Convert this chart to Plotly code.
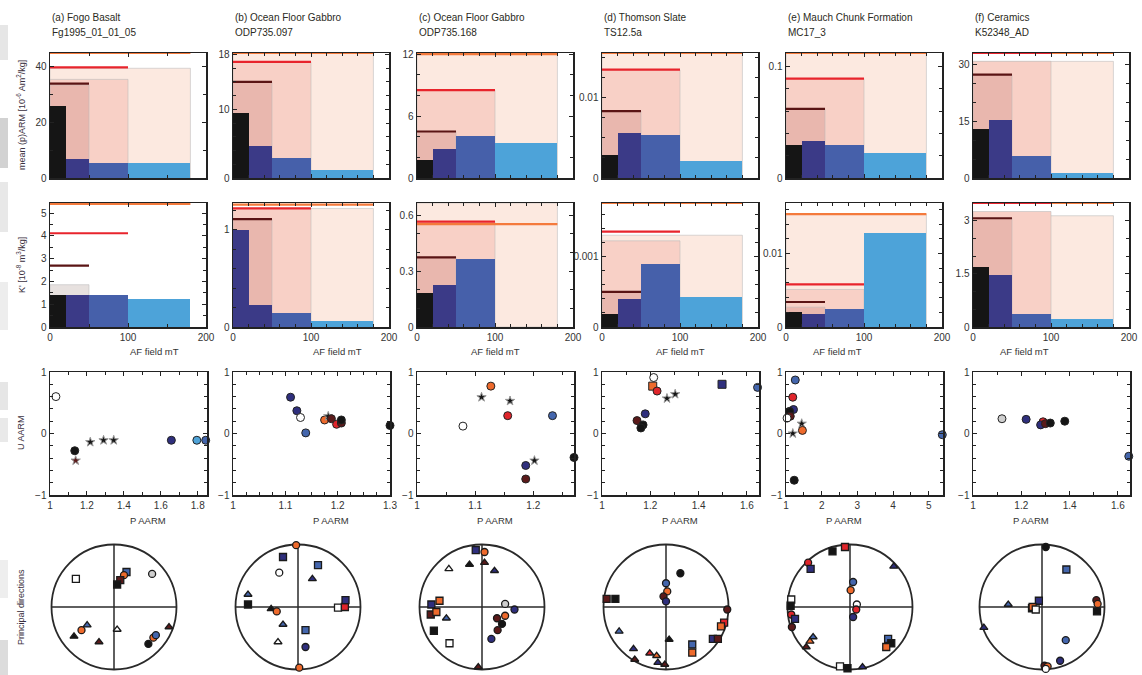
import plotly.graph_objects as go

W, H = 1142, 675

# ---------------- data ----------------
panel_titles = ["(a) Fogo Basalt", "(b) Ocean Floor Gabbro", "(c) Ocean Floor Gabbro",
                "(d) Thomson Slate", "(e) Mauch Chunk Formation", "(f) Ceramics"]
sample_ids = ["Fg1995_01_01_05", "ODP735.097", "ODP735.168", "TS12.5a", "MC17_3", "K52348_AD"]

af_edges = [0, 20, 50, 100, 180]          # AF windows, mT

# Row 1: mean (p)ARM per window, cumulative lines (0-50, 0-100, 0-180), shaded totals
arm_bars = [[26, 7, 5.5, 5.5], [9.4, 4.7, 2.9, 1.2], [1.7, 2.85, 4.05, 3.4],
            [0.0029, 0.0056, 0.0053, 0.0021], [0.0298, 0.0334, 0.0298, 0.0223], [13.0, 15.2, 5.7, 1.2]]
arm_lines = [[34, 39.8, 45], [14.0, 16.9, 18.2], [4.5, 8.5, 12.0],
             [0.0083, 0.01345, 0.0155], [0.062, 0.089, 0.112], [27.2, 32.9, 32.9]]
arm_shades = [[33.5, 35.5, 39.5], [14.0, 16.9, 18.2], [4.5, 8.5, 12.0],
              [0.0083, 0.0134, 0.0155], [0.062, 0.089, 0.112], [27.2, 30.7, 30.7]]
arm_top = [45, 18.2, 12.1, 0.0155, 0.112, 32.9]
arm_ticks = [[0, 20, 40], [0, 10, 18], [0, 6, 12], [0, 0.01], [0, 0.1], [0, 15, 30]]
arm_minor = [10, 2, 2, 0.0025, 0.02, 5]

# Row 2: K' per window
k_bars = [[1.39, 1.39, 1.39, 1.24], [1.0, 0.23, 0.145, 0.062], [0.18, 0.224, 0.364, 0.0],
          [0.00019, 0.000395, 0.000905, 0.00043], [0.0021, 0.0018, 0.0024, 0.01277], [1.68, 1.46, 0.38, 0.217]]
k_lines = [[2.70, 4.12, 5.41], [1.11, 1.22, 1.26], [0.373, 0.565, 0.552],
           [0.0005, 0.00136, 0.00177], [0.0034, 0.0058, 0.01536], [3.07, 3.5, 3.5]]
k_shades = [[1.86, 0, 0], [1.11, 1.22, 1.22], [0.373, 0.565, 0.665],
            [0.0005, 0.00123, 0.00131], [0.0027, 0.0051, 0.0153], [3.07, 3.26, 3.14]]
k_shade_tint = ["grey", "pink", "pink", "pink", "pink", "pink"]
k_first_bar = ["black", "navy", "black", "black", "black", "black"]
k_top = [5.45, 1.276, 0.665, 0.00177, 0.01686, 3.5]
k_ticks = [[0, 1, 2, 3, 4, 5], [0, 1], [0, 0.3, 0.6], [0, 0.001], [0, 0.01], [0, 1.5, 3.0]]
k_minor = [0.5, 0.2, 0.1, 0.0002, 0.002, 0.5]
af_minor = [50, 20, 20, 20, 20, 20]

# Row 3: P vs U of AARM
p_vals = [[1.032, 1.134, 1.139, 1.218, 1.29, 1.345, 1.657, 1.795, 1.843],
          [1.110, 1.122, 1.129, 1.139, 1.175, 1.182, 1.188, 1.198, 1.207, 1.207, 1.30],
          [1.079, 1.127, 1.111, 1.160, 1.156, 1.233, 1.202, 1.187, 1.187, 1.27],
          [1.214, 1.21, 1.228, 1.269, 1.303, 1.497, 1.644, 1.179, 1.145, 1.17, 1.161],
          [1.26, 1.19, 1.21, 1.10, 1.12, 1.03, 1.44, 1.46, 1.19, 1.23, 5.38],
          [1.12, 1.22, 1.29, 1.28, 1.30, 1.32, 1.38, 1.645]]
u_vals = [[0.60, -0.28, -0.44, -0.14, -0.11, -0.11, -0.11, -0.11, -0.11],
          [0.59, 0.37, 0.26, 0.01, 0.22, 0.28, 0.24, 0.15, 0.17, 0.22, 0.13],
          [0.12, 0.77, 0.59, 0.53, 0.29, 0.29, -0.44, -0.52, -0.74, -0.39],
          [0.91, 0.77, 0.69, 0.57, 0.64, 0.80, 0.75, 0.32, 0.21, 0.14, 0.09],
          [0.87, 0.59, 0.39, 0.36, 0.28, 0.25, 0.16, 0.05, 0.0, -0.76, -0.02],
          [0.24, 0.23, 0.19, 0.14, 0.16, 0.17, 0.20, -0.37]]
pu_colors = [["w", "k", "dr", "k", "k", "k", "n", "lb", "b"],
             ["n", "n", "w", "b", "o", "k", "dr", "r", "dr", "k", "k"],
             ["w", "o", "k", "k", "r", "b", "k", "n", "dr", "k"],
             ["w", "o", "r", "k", "k", "n", "b", "n", "dr", "k", "k"],
             ["b", "r", "n", "k", "dr", "w", "k", "o", "k", "k", "b"],
             ["g", "n", "r", "n", "dr", "k", "k", "b"]]
pu_symbols = [["circle", "circle", "star", "star", "star", "star", "circle", "circle", "circle"],
              ["circle", "circle", "circle", "circle", "circle", "star", "circle", "circle", "circle", "circle", "circle"],
              ["circle", "circle", "star", "star", "circle", "circle", "star", "circle", "circle", "circle"],
              ["circle", "square", "circle", "star", "star", "square", "circle", "circle", "circle", "circle", "circle"],
              ["circle", "circle", "circle", "circle", "circle", "circle", "star", "circle", "star", "circle", "circle"],
              ["circle"] * 8]
p_range = [[1, 1.85], [1, 1.3], [1, 1.27], [1, 1.65], [1, 5.4], [1, 1.65]]
p_ticks = [[1, 1.2, 1.4, 1.6, 1.8], [1, 1.1, 1.2, 1.3], [1, 1.1, 1.2], [1, 1.2, 1.4, 1.6],
           [1, 2, 3, 4, 5], [1, 1.2, 1.4, 1.6]]
p_minor = [0.1, 0.025, 0.05, 0.1, 0.5, 0.1]

# Row 4: principal directions (equal-area projection coordinates)
dir_x = [[-0.61, 0.20, 0.16, 0.10, 0.05, 0.61, -0.64, -0.52, -0.43, -0.24, 0.05, 0.55, 0.63, 0.67, 0.88],
         [-0.03, 0.02, -0.24, 0.32, -0.30, 0.23, -0.80, -0.80, -0.43, -0.34, -0.24, 0.64, 0.75, 0.76, 0.12, -0.32, 0.12],
         [-0.10, 0.04, 0.04, -0.20, -0.53, 0.20, -0.81, -0.68, -0.82, -0.73, -0.57, -0.77, -0.52, 0.37, 0.52, 0.37, 0.24, 0.32, 0.25, 0.15, -0.06],
         [0.23, 0.0, 0.02, -0.04, 0.0, -0.95, -0.81, 0.98, 0.93, 0.88, 0.75, 0.83, 0.42, 0.42, 0.05, -0.75, -0.52, -0.26, -0.15, -0.50, -0.13, -0.02],
         [-0.08, -0.28, -0.67, -0.63, 0.70, 0.05, 0.01, 0.11, 0.10, 0.05, -0.94, -0.95, -0.94, -0.88, -0.93, -0.59, -0.64, -0.70, 0.61, 0.66, 0.58, -0.16, -0.04, 0.20],
         [0.06, 0.39, -0.05, -0.16, -0.15, -0.10, -0.54, -0.93, 0.87, 0.89, 0.88, 0.38, 0.29, 0.04, 0.09, 0.06]]
dir_y = [[0.45, 0.56, 0.51, 0.43, 0.36, 0.53, -0.47, -0.37, -0.29, -0.56, -0.36, -0.59, -0.49, -0.45, -0.32],
         [0.99, -0.97, 0.80, 0.67, 0.55, 0.45, 0.20, 0.04, -0.03, -0.07, -0.28, -0.01, 0.0, 0.11, -0.37, -0.56, -0.64],
         [0.91, 0.88, 0.71, 0.68, 0.61, 0.58, 0.04, 0.10, -0.12, -0.08, -0.18, -0.38, -0.58, 0.05, -0.04, -0.14, -0.18, -0.27, -0.37, -0.51, -0.96],
         [0.54, 0.38, 0.25, 0.17, 0.09, 0.13, 0.13, -0.04, -0.25, -0.31, -0.51, -0.51, -0.60, -0.73, -0.52, -0.39, -0.67, -0.74, -0.78, -0.84, -0.89, -0.92],
         [0.96, 0.89, 0.71, 0.61, 0.65, 0.40, 0.27, 0.04, -0.04, -0.16, 0.12, 0.02, -0.12, -0.19, -0.32, -0.48, -0.55, -0.64, -0.51, -0.58, -0.64, -0.95, -0.98, -0.96],
         [0.96, 0.60, 0.10, -0.02, 0.0, -0.04, 0.04, -0.33, 0.11, 0.05, -0.07, -0.53, -0.86, -0.94, -0.95, -0.99]]
dir_c = [["w", "b", "o", "dr", "k", "g", "k", "o", "b", "dr", "w", "k", "o", "b", "dr"],
         ["o", "o", "n", "b", "w", "n", "b", "k", "k", "o", "b", "w", "r", "n", "b", "w", "n"],
         ["n", "o", "dr", "k", "w", "n", "n", "o", "dr", "o", "b", "k", "w", "g", "n", "o", "dr", "k", "dr", "n", "dr"],
         ["k", "b", "o", "dr", "n", "dr", "k", "dr", "r", "o", "n", "dr", "b", "o", "k", "b", "n", "r", "o", "dr", "n", "dr"],
         ["r", "k", "r", "n", "n", "b", "o", "w", "r", "n", "w", "k", "r", "n", "dr", "b", "o", "dr", "b", "k", "o", "w", "k", "n"],
         ["k", "b", "n", "k", "o", "w", "b", "n", "dr", "o", "k", "b", "n", "dr", "o", "w"]]
dir_s = [["s", "s", "c", "s", "s", "c", "t", "c", "t", "t", "t", "c", "c", "c", "t"],
         ["c", "c", "s", "s", "c", "t", "t", "s", "t", "c", "t", "s", "s", "s", "s", "t", "c"],
         ["s", "c", "t", "t", "t", "t", "s", "s", "s", "s", "t", "s", "s", "c", "c", "c", "c", "c", "c", "c", "t"],
         ["c", "c", "c", "c", "c", "s", "s", "c", "s", "s", "s", "s", "s", "s", "t", "t", "t", "t", "t", "t", "t", "t"],
         ["s", "s", "c", "s", "t", "c", "c", "c", "c", "c", "s", "s", "c", "s", "c", "t", "t", "t", "s", "s", "s", "s", "s", "t"],
         ["c", "s", "s", "s", "s", "s", "t", "t", "c", "c", "s", "c", "c", "c", "c", "c"]]

# ---------------- style ----------------
PAL = {"k": "#151515", "dr": "#5b1a1a", "r": "#e0252b", "o": "#ee6a2c", "n": "#2f2f7d",
       "b": "#4466ad", "lb": "#4fa3d8", "w": "#ffffff", "g": "#cfcfcf"}
BAR_COL = {"black": "#151515", "navy": "#3b3a87", "blue": "#4660aa", "lightblue": "#4da3d9"}
SHADE_PINK = ["#e9b7ae", "#f8d0c6", "#fce9e0"]
SHADE_GREY = ["#e7e1df", "#ece8e6", "#f3f1f0"]
LINE_COL = ["#5a1414", "#e8242c", "#f47a3c"]
SYM = {"s": "square", "c": "circle", "t": "triangle-up"}
FONT = "Liberation Sans, Arial, sans-serif"
TXT = "#333333"

LEFTS = [50, 233, 417, 602, 786, 973]
PW = 156
ROWS = [(53, 178), (203, 327), (372, 495)]
SCX = [114, 298, 482, 666, 850, 1042]
SCY = 607
SR = 62.5
SPAN = 1.06


def xdom(a, b):
    return [a / W, b / W]


def ydom(top, bot):
    return [1 - bot / H, 1 - top / H]


def base_axis(**kw):
    d = dict(showline=True, linecolor="#222", linewidth=1.5, mirror="allticks",
             ticks="inside", ticklen=4, tickwidth=1, tickcolor="#222",
             showgrid=False, zeroline=False, automargin=False,
             tickfont=dict(size=10, family=FONT, color=TXT))
    d.update(kw)
    return d


fig = go.Figure()
layout = {}
shapes = []
annotations = []

for c in range(6):
    # ---------- rows 1 and 2: histogram panels ----------
    for r, (bars, lines, shades, top, ticks, minor) in enumerate([
            (arm_bars[c], arm_lines[c], arm_shades[c], arm_top[c], arm_ticks[c], arm_minor[c]),
            (k_bars[c], k_lines[c], k_shades[c], k_top[c], k_ticks[c], k_minor[c])]):
        n = r * 6 + c + 1
        xa, ya = f"x{n}", f"y{n}"
        ends = [af_edges[2], af_edges[3], af_edges[4]]
        tint = SHADE_PINK if (r == 0 or k_shade_tint[c] == "pink") else SHADE_GREY
        # shaded totals, widest first
        for j in [2, 1, 0]:
            if shades[j] > 0:
                fig.add_trace(go.Bar(x=[ends[j] / 2], y=[shades[j]], width=[ends[j]],
                                     marker=dict(color=tint[j], line=dict(color="rgba(185,185,185,0.55)", width=1)),
                                     xaxis=xa, yaxis=ya, hoverinfo="skip"))
        mids = [(af_edges[i] + af_edges[i + 1]) / 2 for i in range(4)]
        widths = [af_edges[i + 1] - af_edges[i] for i in range(4)]
        first = "black" if r == 0 else k_first_bar[c]
        cols = [BAR_COL[first], BAR_COL["navy"], BAR_COL["blue"], BAR_COL["lightblue"]]
        fig.add_trace(go.Bar(x=mids, y=bars, width=widths, marker=dict(color=cols, line=dict(width=0)),
                             xaxis=xa, yaxis=ya))
        for j in [2, 1, 0]:
            fig.add_trace(go.Scatter(x=[0, ends[j]], y=[lines[j], lines[j]], mode="lines",
                                     line=dict(color=LINE_COL[j], width=2.2), cliponaxis=False,
                                     xaxis=xa, yaxis=ya))
        top_px, bot_px = ROWS[r]
        layout[f"xaxis{n}"] = base_axis(domain=xdom(LEFTS[c], LEFTS[c] + PW), anchor=ya, range=[0, 200],
                                        tickvals=[0, 100, 200], showticklabels=(r == 1),
                                        minor=dict(ticks="inside", ticklen=3, dtick=af_minor[c], tick0=0,
                                                   tickcolor="#222", showgrid=False))
        layout[f"yaxis{n}"] = base_axis(domain=ydom(top_px, bot_px), anchor=xa, range=[0, top],
                                        tickvals=ticks,
                                        minor=dict(ticks="inside", ticklen=3, dtick=minor, tick0=0,
                                                   tickcolor="#222", showgrid=False))
        if r == 1:
            annotations.append(dict(text="AF field mT", x=(LEFTS[c] + PW / 2) / W, y=1 - 351 / H,
                                     xref="paper", yref="paper", showarrow=False, yanchor="middle",
                                     font=dict(size=9.5, family=FONT, color=TXT)))

    # ---------- row 3: P vs U ----------
    n = 12 + c + 1
    xa, ya = f"x{n}", f"y{n}"
    cols = [PAL[k] for k in pu_colors[c]]
    line_cols = ["#222" if s != "star" else "#999" for s in pu_symbols[c]]
    sizes = [8 if s != "star" else 7 for s in pu_symbols[c]]
    fig.add_trace(go.Scatter(x=p_vals[c], y=u_vals[c], mode="markers", cliponaxis=False,
                             marker=dict(color=cols, symbol=pu_symbols[c], size=sizes, opacity=1,
                                         line=dict(color=line_cols, width=1)),
                             xaxis=xa, yaxis=ya))
    layout[f"xaxis{n}"] = base_axis(domain=xdom(LEFTS[c], LEFTS[c] + PW + 1), anchor=ya, range=p_range[c],
                                    tickvals=p_ticks[c],
                                    minor=dict(ticks="inside", ticklen=3, dtick=p_minor[c], tick0=1,
                                               tickcolor="#222", showgrid=False))
    layout[f"yaxis{n}"] = base_axis(domain=ydom(*ROWS[2]), anchor=xa, range=[-1, 1], tickvals=[-1, 0, 1],
                                    minor=dict(ticks="inside", ticklen=3, dtick=0.2, tick0=-1,
                                               tickcolor="#222", showgrid=False))
    annotations.append(dict(text="P AARM", x=(LEFTS[c] + PW / 2) / W, y=1 - 520 / H,
                             xref="paper", yref="paper", showarrow=False, yanchor="middle",
                             font=dict(size=9.5, family=FONT, color=TXT)))

    # ---------- row 4: stereonets ----------
    n = 18 + c + 1
    xa, ya = f"x{n}", f"y{n}"
    half = SR * SPAN
    cols = [PAL[k] for k in dir_c[c]]
    fig.add_trace(go.Scatter(x=dir_x[c], y=dir_y[c], mode="markers", cliponaxis=False,
                             marker=dict(color=cols, symbol=[SYM[s] for s in dir_s[c]], size=7, opacity=1,
                                         line=dict(color="#1a1a1a", width=1.3)),
                             xaxis=xa, yaxis=ya))
    layout[f"xaxis{n}"] = dict(domain=xdom(SCX[c] - half, SCX[c] + half), anchor=ya,
                               range=[-SPAN, SPAN], visible=False)
    layout[f"yaxis{n}"] = dict(domain=ydom(SCY - half, SCY + half), anchor=xa,
                               range=[-SPAN, SPAN], visible=False)
    shapes.append(dict(type="circle", xref=xa, yref=ya, x0=-1, y0=-1, x1=1, y1=1,
                       line=dict(color="#2a2a2a", width=1.8), layer="below"))
    shapes.append(dict(type="line", xref=xa, yref=ya, x0=-1, y0=0, x1=1, y1=0,
                       line=dict(color="#2a2a2a", width=1.5), layer="below"))
    shapes.append(dict(type="line", xref=xa, yref=ya, x0=0, y0=-1, x1=0, y1=1,
                       line=dict(color="#2a2a2a", width=1.5), layer="below"))

    # ---------- titles ----------
    annotations.append(dict(text=panel_titles[c], x=LEFTS[c] / W, y=1 - 18 / H, xref="paper", yref="paper",
                            xanchor="left", yanchor="middle", showarrow=False,
                            font=dict(size=10, family=FONT, color="#2a2a22")))
    annotations.append(dict(text=sample_ids[c], x=LEFTS[c] / W, y=1 - 32 / H, xref="paper", yref="paper",
                            xanchor="left", yanchor="middle", showarrow=False,
                            font=dict(size=10, family=FONT, color="#2a2a22")))

# row labels
row_labels = ["mean (p)ARM [10<sup>-6</sup> Am<sup>2</sup>/kg]", "K' [10<sup>-8</sup> m<sup>3</sup>/kg]",
              "U AARM", "Principal directions"]
row_label_y = [115, 265, 433, 607]
for txt, yy in zip(row_labels, row_label_y):
    annotations.append(dict(text=txt, x=21 / W, y=1 - yy / H, xref="paper", yref="paper", textangle=-90,
                            showarrow=False, xanchor="center", yanchor="middle",
                            font=dict(size=9, family=FONT, color="#3a3040")))

# faint scan artefacts at the left edge
for (t, b, col) in [(25, 60, "#e6e6e6"), (118, 168, "#d2d2d2"), (182, 232, "#e8e8e8"),
                    (282, 330, "#ededed"), (382, 410, "#e6e6e6"), (418, 442, "#e9e9e9"),
                    (560, 598, "#eeeeee"), (640, 675, "#dcdcdc")]:
    shapes.append(dict(type="rect", xref="paper", yref="paper", x0=0, x1=8 / W, y0=1 - b / H, y1=1 - t / H,
                       fillcolor=col, line=dict(width=0), layer="below"))

fig.update_layout(width=W, height=H, margin=dict(l=0, r=0, t=0, b=0), showlegend=False,
                  plot_bgcolor="white", paper_bgcolor="white", barmode="overlay", bargap=0,
                  hovermode=False, shapes=shapes, annotations=annotations, **layout)

fig.write_html("out.html", config={"staticPlot": True, "displayModeBar": False},
               post_script="document.body.style.margin='0px';")
